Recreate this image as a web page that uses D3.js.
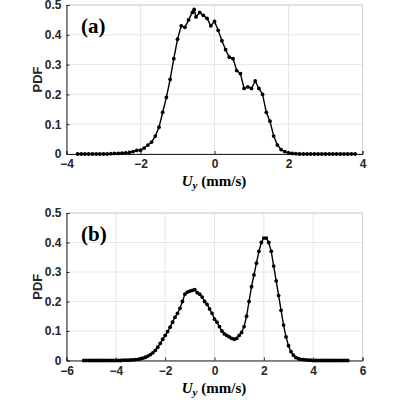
<!DOCTYPE html><html><head><meta charset="utf-8"><script src="https://cdn.jsdelivr.net/npm/d3@7"></script>
<style>body{margin:0;background:#fff}</style></head><body><svg id="c" width="400" height="400"></svg>
<script>
const xA=[-3.7,-3.6,-3.5,-3.4,-3.3,-3.2,-3.1,-3.0,-2.9,-2.8,-2.7,-2.6,-2.5,-2.4,-2.3,-2.2,-2.1,-2.0,-1.9,-1.8,-1.7,-1.6,-1.5,-1.4,-1.3,-1.2,-1.1,-1.0,-0.9,-0.8,-0.7,-0.6,-0.55,-0.5,-0.4,-0.3,-0.2,-0.1,0,0.1,0.2,0.3,0.4,0.5,0.6,0.7,0.8,0.9,1.0,1.1,1.2,1.3,1.4,1.5,1.6,1.7,1.8,1.9,2.0,2.1,2.2,2.3,2.4,2.5,2.6,2.7,2.8,2.9,3.0,3.1,3.2,3.3,3.4,3.5,3.6,3.7,3.8];
const yA=[0,0,0,0,0,0,0,0,0,0.001,0.002,0.002,0.003,0.004,0.005,0.008,0.012,0.013,0.02,0.03,0.04,0.06,0.09,0.14,0.19,0.25,0.32,0.385,0.43,0.425,0.45,0.475,0.485,0.46,0.475,0.465,0.455,0.43,0.445,0.415,0.38,0.35,0.325,0.32,0.28,0.27,0.22,0.225,0.22,0.245,0.22,0.2,0.14,0.11,0.06,0.03,0.015,0.008,0.004,0.002,0.001,0,0,0,0,0,0,0,0,0,0,0,0,0,0,0,0];
const xB=[-5.3,-5.2,-5.1,-5.0,-4.9,-4.8,-4.7,-4.6,-4.5,-4.4,-4.3,-4.2,-4.1,-4.0,-3.9,-3.8,-3.7,-3.6,-3.5,-3.4,-3.3,-3.2,-3.1,-3.0,-2.9,-2.8,-2.7,-2.6,-2.5,-2.4,-2.3,-2.2,-2.1,-2.0,-1.9,-1.8,-1.7,-1.6,-1.5,-1.4,-1.3,-1.2,-1.1,-1.0,-0.9,-0.8,-0.7,-0.6,-0.5,-0.4,-0.3,-0.2,-0.1,0,0.1,0.2,0.3,0.4,0.5,0.6,0.7,0.8,0.9,1.0,1.1,1.2,1.3,1.4,1.5,1.6,1.7,1.8,1.9,2.0,2.1,2.2,2.3,2.4,2.5,2.6,2.7,2.8,2.9,3.0,3.1,3.2,3.3,3.4,3.5,3.6,3.7,3.8,3.9,4.0,4.1,4.2,4.3,4.4,4.5,4.6,4.7,4.8,4.9,5.0,5.1,5.2,5.3,5.4];
const yB=[0,0,0,0,0,0,0,0,0,0,0,0,0,0,0,0,0.001,0.001,0.001,0.002,0.002,0.003,0.004,0.006,0.008,0.011,0.015,0.02,0.026,0.034,0.045,0.058,0.072,0.085,0.098,0.113,0.13,0.147,0.16,0.177,0.2,0.225,0.232,0.235,0.238,0.24,0.23,0.225,0.215,0.2,0.19,0.175,0.16,0.14,0.13,0.115,0.1,0.09,0.085,0.08,0.075,0.072,0.075,0.085,0.095,0.115,0.15,0.2,0.25,0.29,0.33,0.37,0.4,0.415,0.415,0.4,0.37,0.32,0.27,0.22,0.17,0.12,0.08,0.05,0.03,0.018,0.01,0.006,0.004,0.003,0.002,0.001,0.001,0,0,0,0,0,0,0,0,0,0,0,0,0,0,0];
const yTicks=[0,0.1,0.2,0.3,0.4,0.5];
const svg=d3.select("#c");
function panel(xs,ys,dom,xt,top,bottom,lab){
 const x=d3.scaleLinear().domain(dom).range([66.5,362.5]);
 const y=d3.scaleLinear().domain([0,0.5]).range([bottom,top]);
 const g=svg.append("g");
 g.selectAll(".gx").data(xt).join("line").attr("x1",d=>x(d)).attr("x2",d=>x(d)).attr("y1",top).attr("y2",bottom).attr("stroke","#e6e6e6");
 g.selectAll(".gy").data(yTicks).join("line").attr("x1",66.5).attr("x2",362.5).attr("y1",d=>y(d)).attr("y2",d=>y(d)).attr("stroke","#e6e6e6");
 g.append("rect").attr("x",66.5).attr("y",top).attr("width",296).attr("height",bottom-top).attr("fill","none").attr("stroke","#d0d0d0");
 const ax=g.append("g").attr("transform",`translate(0,${bottom})`).call(d3.axisBottom(x).tickValues(xt).tickSize(-3).tickFormat(d3.format("d")));
 const ay=g.append("g").attr("transform","translate(66.5,0)").call(d3.axisLeft(y).tickValues(yTicks).tickSize(-3).tickFormat(d=>d===0?"0":d3.format(".1f")(d)));
 [ax,ay].forEach(a=>{a.selectAll("path,line").attr("stroke","#262626");a.selectAll("text").attr("font-family","Liberation Sans, Arial").attr("font-weight","bold").attr("font-size","12px").attr("fill","#262626");});
 ax.selectAll("text").attr("dy","0.95em");ay.selectAll("text").attr("dx","-2");
 const pts=xs.map((v,i)=>[v,ys[i]]);
 g.append("path").datum(pts).attr("d",d3.line().x(d=>x(d[0])).y(d=>y(d[1]))).attr("fill","none").attr("stroke","#000").attr("stroke-width",1.4);
 g.selectAll("circle").data(pts).join("circle").attr("cx",d=>x(d[0])).attr("cy",d=>y(d[1])).attr("r",1.9).attr("fill","#000");
 const t=g.append("text").attr("x",214).attr("y",bottom+32).attr("text-anchor","middle").attr("font-family","Liberation Serif, Times New Roman").attr("font-weight","bold").attr("font-size","15px");
 t.append("tspan").attr("font-style","italic").text("U");
 t.append("tspan").attr("font-style","italic").attr("font-size","11px").attr("dy","3").text("y");
 t.append("tspan").attr("dy","-3").text(" (mm/s)");
 g.append("text").attr("transform",`translate(42,${(top+bottom)/2}) rotate(-90)`).attr("text-anchor","middle").attr("font-family","Liberation Sans, Arial").attr("font-weight","bold").attr("font-size","13px").attr("fill","#262626").text("PDF");
 g.append("text").attr("x",81).attr("y",top+28).attr("font-family","Liberation Serif, Times New Roman").attr("font-weight","bold").attr("font-size","21px").text(lab);
}
panel(xA,yA,[-4,4],[-4,-2,0,2,4],5,154,"(a)");
panel(xB,yB,[-6,6],[-6,-4,-2,0,2,4,6],213,360.5,"(b)");
</script></body></html>
